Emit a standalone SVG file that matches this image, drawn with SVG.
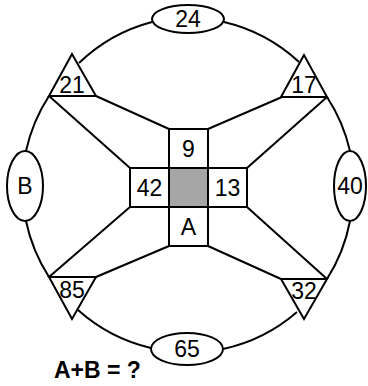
<svg xmlns="http://www.w3.org/2000/svg" width="368" height="386" viewBox="0 0 368 386">
<style>
.ln{fill:none;stroke:#000;stroke-width:2;stroke-linejoin:miter}
.sh{fill:#fff;stroke:#000;stroke-width:2}
.t{font-family:"Liberation Sans",Arial,sans-serif;font-size:23px;text-anchor:middle;fill:#000}
.q{font-family:"Liberation Sans",Arial,sans-serif;font-size:23px;font-weight:bold;fill:#000}
</style>
<rect width="368" height="386" fill="#fff"/>
<g id="connectors" class="ln">
<path d="M152,22 A166,166 0 0 0 79,63"/>
<path d="M49,96 A166,166 0 0 0 26,151"/>
<path d="M26,221 A166,166 0 0 0 49,277"/>
<path d="M78,310 A166,166 0 0 0 151,348"/>
<path d="M224,22 A166,166 0 0 1 299,62"/>
<path d="M327,97 A166,166 0 0 1 350,151"/>
<path d="M350,221 A166,166 0 0 1 327,279"/>
<path d="M297,312 A166,166 0 0 1 223,349"/>
<path d="M96,96 L169,129"/>
<path d="M49,96 L130,168"/>
<path d="M282,97 L208,129"/>
<path d="M327,97 L247,168"/>
<path d="M49,277 L130,207"/>
<path d="M96,277 L169,246"/>
<path d="M281,279 L208,246"/>
<path d="M327,279 L247,207"/>
</g>
<g id="center">
<rect x="169" y="168" width="39" height="39" fill="#a6a6a6" stroke="#000" stroke-width="2"/>
</g>
<g id="box9"><rect class="sh" x="169" y="129" width="39" height="39"/><text class="t" x="188.5" y="157">9</text></g>
<g id="box42"><rect class="sh" x="130" y="168" width="39" height="39"/><text class="t" x="149.5" y="196">42</text></g>
<g id="box13"><rect class="sh" x="208" y="168" width="39" height="39"/><text class="t" x="227.5" y="196">13</text></g>
<g id="boxA"><rect class="sh" x="169" y="207" width="39" height="39"/><text class="t" x="188.5" y="235">A</text></g>
<g id="e24"><ellipse class="sh" cx="188" cy="19" rx="36" ry="14"/><text class="t" x="188" y="27">24</text></g>
<g id="e65"><ellipse class="sh" cx="187" cy="349" rx="36" ry="16"/><text class="t" x="187" y="357">65</text></g>
<g id="eB"><ellipse class="sh" cx="25" cy="186" rx="18" ry="35"/><text class="t" x="25" y="194">B</text></g>
<g id="e40"><ellipse class="sh" cx="350" cy="186" rx="16" ry="35"/><text class="t" x="350" y="194">40</text></g>
<g id="t21"><polygon class="sh" points="72,54 49,96 96,96"/><text class="t" x="72" y="93">21</text></g>
<g id="t17"><polygon class="sh" points="304,55 281,97 327,97"/><text class="t" x="304" y="93">17</text></g>
<g id="t85"><polygon class="sh" points="49,277 96,277 72,319"/><text class="t" x="72" y="298">85</text></g>
<g id="t32"><polygon class="sh" points="281,279 327,279 304,319"/><text class="t" x="304" y="299">32</text></g>
<g id="question"><text class="q" x="54" y="378">A+B = ?</text></g>
</svg>
